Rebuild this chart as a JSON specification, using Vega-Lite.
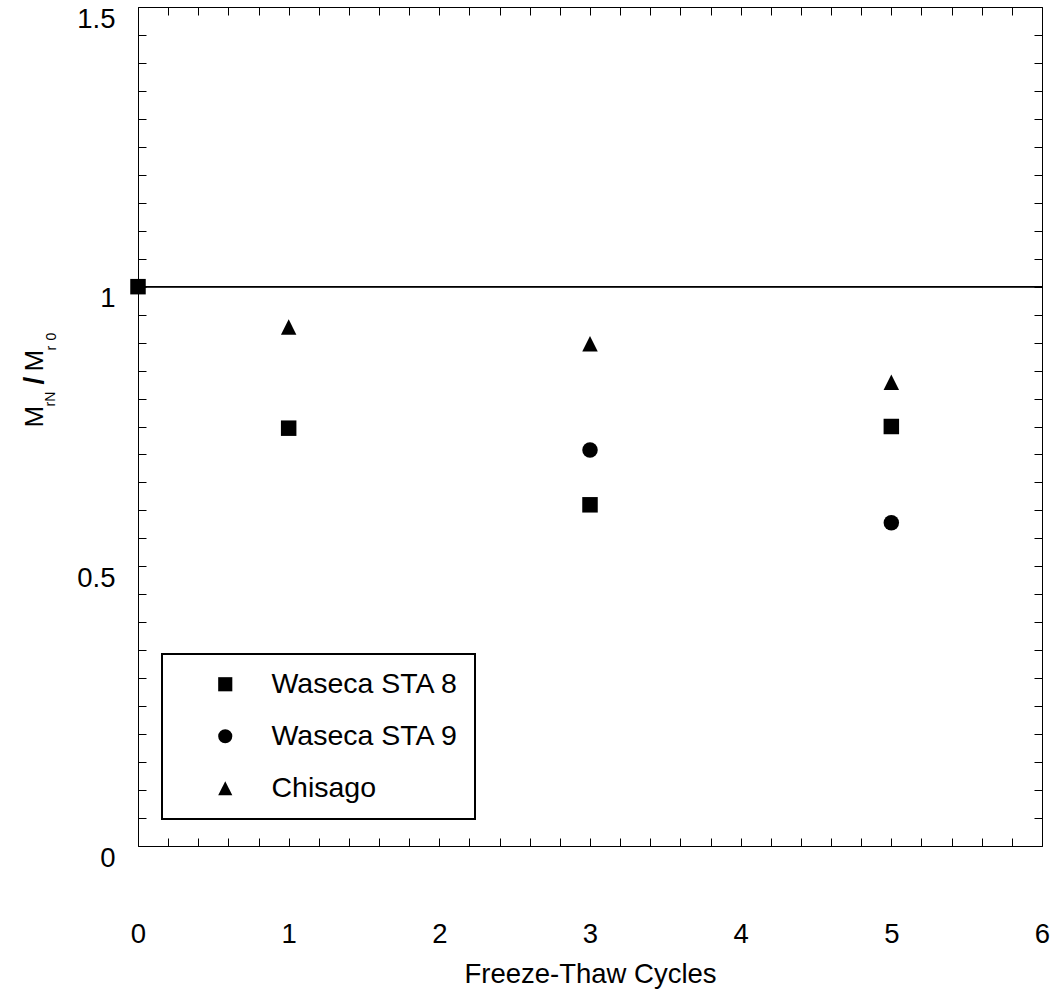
{
  "$schema": "https://vega.github.io/schema/vega-lite/v6.json",
  "width": 904,
  "height": 839,
  "autosize": {"type": "none"},
  "padding": {"left": 138, "top": 7, "right": 13, "bottom": 147},
  "background": "white",
  "data": {
    "values": [
      {"cycles": 0, "ratio": 1.0, "site": "Waseca STA 8"},
      {"cycles": 1, "ratio": 0.747, "site": "Waseca STA 8"},
      {"cycles": 3, "ratio": 0.61, "site": "Waseca STA 8"},
      {"cycles": 5, "ratio": 0.75, "site": "Waseca STA 8"},
      {"cycles": 3, "ratio": 0.708, "site": "Waseca STA 9"},
      {"cycles": 5, "ratio": 0.578, "site": "Waseca STA 9"},
      {"cycles": 1, "ratio": 0.928, "site": "Chisago"},
      {"cycles": 3, "ratio": 0.898, "site": "Chisago"},
      {"cycles": 5, "ratio": 0.829, "site": "Chisago"}
    ]
  },
  "resolve": {"axis": {"x": "independent", "y": "independent"}},
  "layer": [
    {
      "mark": {"type": "rule", "color": "black", "strokeWidth": 1},
      "encoding": {
        "y": {
          "datum": 1,
          "type": "quantitative",
          "scale": {"domain": [0, 1.5], "nice": false, "zero": false},
          "axis": {"orient": "left", "ticks": false, "labels": false, "domain": false, "title": "rN", "titleFontSize": 14, "titleX": -84, "titleY": 399, "titleAngle": 270, "titleAlign": "left", "titleBaseline": "alphabetic"}
        }
      }
    },
    {
      "mark": {"type": "point", "filled": true, "opacity": 1, "color": "black", "size": 240},
      "encoding": {
        "x": {
          "field": "cycles",
          "type": "quantitative",
          "scale": {"domain": [0, 6], "nice": false, "zero": false},
          "axis": {
            "orient": "bottom",
            "values": [0,0.2,0.4,0.6,0.8,1,1.2,1.4,1.6,1.8,2,2.2,2.4,2.6,2.8,3,3.2,3.4,3.6,3.8,4,4.2,4.4,4.6,4.8,5,5.2,5.4,5.6,5.8,6],
            "tickSize": -8,
            "labelPadding": 82,
            "labelExpr": "datum.value % 1 === 0 ? format(datum.value, 'd') : ''",
            "labelFlush": false,
            "labelOverlap": false,
            "domain": true,
            "title": "Freeze-Thaw Cycles",
            "titleY": 136,
            "titleBaseline": "alphabetic"
          }
        },
        "y": {
          "field": "ratio",
          "type": "quantitative",
          "scale": {"domain": [0, 1.5], "nice": false, "zero": false},
          "axis": {
            "orient": "left",
            "values": [0,0.05,0.1,0.15,0.2,0.25,0.3,0.35,0.4,0.45,0.5,0.55,0.6,0.65,0.7,0.75,0.8,0.85,0.9,0.95,1,1.05,1.1,1.15,1.2,1.25,1.3,1.35,1.4,1.45,1.5],
            "tickSize": -8,
            "labelPadding": 31,
            "labelOffset": 12,
            "labelExpr": "indexof([0, 0.5, 1, 1.5], datum.value) >= 0 ? format(datum.value, '~g') : ''",
            "labelFlush": false,
            "labelOverlap": false,
            "domain": true,
            "title": "M",
            "titleFontSize": 26,
            "titleX": -96,
            "titleY": 420,
            "titleAngle": 270,
            "titleAlign": "left",
            "titleBaseline": "alphabetic"
          }
        },
        "shape": {
          "field": "site",
          "type": "nominal",
          "scale": {"domain": ["Waseca STA 8", "Waseca STA 9", "Chisago"], "range": ["square", "circle", "M0,-1L1,1L-1,1Z"]},
          "legend": {
            "title": null,
            "orient": "none",
            "legendX": 24,
            "legendY": 647,
            "padding": 16,
            "rowPadding": 23,
            "symbolOffset": 33,
            "labelOffset": 32,
            "labelFontSize": 28.5,
            "labelFont": "Liberation Sans",
            "labelColor": "black",
            "labelLimit": 400,
            "strokeColor": "black",
            "fillColor": "white",
            "symbolSize": 200,
            "symbolFillColor": "black",
            "symbolStrokeWidth": 0
          }
        }
      }
    },
    {
      "mark": {"type": "point", "opacity": 0},
      "encoding": {
        "x": {
          "field": "cycles",
          "type": "quantitative",
          "scale": {"domain": [0, 6], "nice": false, "zero": false},
          "axis": {
            "orient": "top",
            "values": [0,0.2,0.4,0.6,0.8,1,1.2,1.4,1.6,1.8,2,2.2,2.4,2.6,2.8,3,3.2,3.4,3.6,3.8,4,4.2,4.4,4.6,4.8,5,5.2,5.4,5.6,5.8,6],
            "tickSize": -8,
            "labels": false,
            "domain": true,
            "title": null
          }
        },
        "y": {
          "field": "ratio",
          "type": "quantitative",
          "scale": {"domain": [0, 1.5], "nice": false, "zero": false},
          "axis": {
            "orient": "right",
            "values": [0,0.05,0.1,0.15,0.2,0.25,0.3,0.35,0.4,0.45,0.5,0.55,0.6,0.65,0.7,0.75,0.8,0.85,0.9,0.95,1,1.05,1.1,1.15,1.2,1.25,1.3,1.35,1.4,1.45,1.5],
            "tickSize": -8,
            "labels": false,
            "domain": true,
            "title": null
          }
        }
      }
    },
    {
      "mark": {"type": "point", "opacity": 0},
      "encoding": {
        "x": {"field": "cycles", "type": "quantitative", "scale": {"domain": [0, 6], "nice": false, "zero": false}, "axis": null},
        "y": {
          "field": "ratio", "type": "quantitative", "scale": {"domain": [0, 1.5], "nice": false, "zero": false},
          "axis": {"orient": "left", "ticks": false, "labels": false, "domain": false, "title": "/", "titleFontSize": 28, "titleFontWeight": "bold", "titleX": -96, "titleY": 373, "titleAngle": 270, "titleAlign": "center", "titleBaseline": "alphabetic"}
        }
      }
    },
    {
      "mark": {"type": "point", "opacity": 0},
      "encoding": {
        "x": {"field": "cycles", "type": "quantitative", "scale": {"domain": [0, 6], "nice": false, "zero": false}, "axis": null},
        "y": {
          "field": "ratio", "type": "quantitative", "scale": {"domain": [0, 1.5], "nice": false, "zero": false},
          "axis": {"orient": "left", "ticks": false, "labels": false, "domain": false, "title": "M", "titleFontSize": 26, "titleX": -96, "titleY": 364, "titleAngle": 270, "titleAlign": "left", "titleBaseline": "alphabetic"}
        }
      }
    },
    {
      "mark": {"type": "point", "opacity": 0},
      "encoding": {
        "x": {"field": "cycles", "type": "quantitative", "scale": {"domain": [0, 6], "nice": false, "zero": false}, "axis": null},
        "y": {
          "field": "ratio", "type": "quantitative", "scale": {"domain": [0, 1.5], "nice": false, "zero": false},
          "axis": {"orient": "left", "ticks": false, "labels": false, "domain": false, "title": "r", "titleFontSize": 14, "titleX": -83, "titleY": 343, "titleAngle": 270, "titleAlign": "left", "titleBaseline": "alphabetic"}
        }
      }
    },
    {
      "mark": {"type": "point", "opacity": 0},
      "encoding": {
        "x": {"field": "cycles", "type": "quantitative", "scale": {"domain": [0, 6], "nice": false, "zero": false}, "axis": null},
        "y": {
          "field": "ratio", "type": "quantitative", "scale": {"domain": [0, 1.5], "nice": false, "zero": false},
          "axis": {"orient": "left", "ticks": false, "labels": false, "domain": false, "title": "0", "titleFontSize": 14, "titleX": -83, "titleY": 333, "titleAngle": 270, "titleAlign": "left", "titleBaseline": "alphabetic"}
        }
      }
    }
  ],
  "config": {
    "view": {"stroke": null},
    "legend": {"strokeWidth": 2},
    "axis": {
      "labelFont": "Liberation Sans",
      "titleFont": "Liberation Sans",
      "labelFontSize": 27.5,
      "titleFontSize": 27.5,
      "titleFontWeight": "normal",
      "labelColor": "black",
      "titleColor": "black",
      "tickColor": "black",
      "tickWidth": 1,
      "domainColor": "black",
      "domainWidth": 1,
      "grid": false
    }
  }
}
